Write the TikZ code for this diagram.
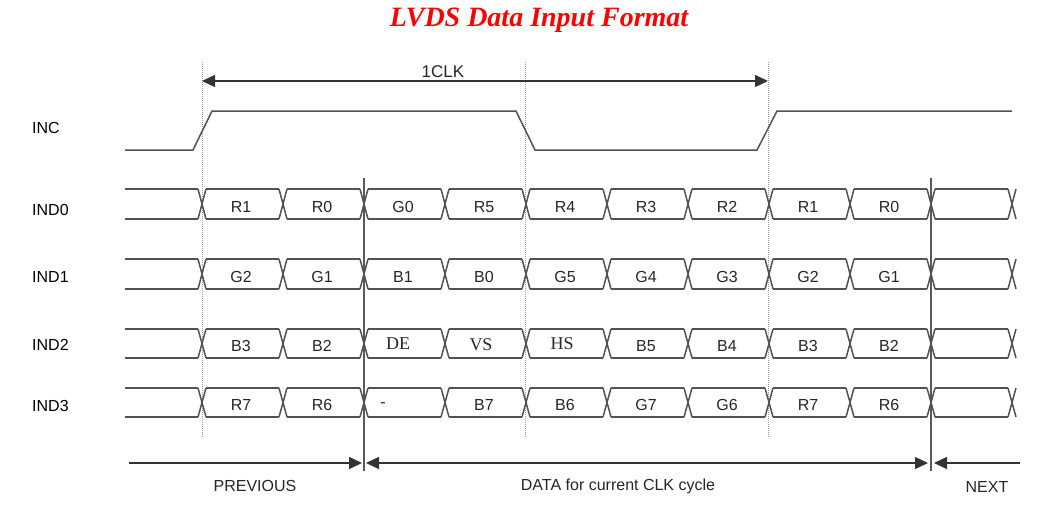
\documentclass[tikz,border=0pt]{standalone}
\usepackage{fontspec}
\setmainfont{Liberation Sans}
\newfontfamily\seriffont{Liberation Serif}
\usetikzlibrary{arrows.meta}

\tikzset{
  wave/.style={draw=black!68, line width=1.5pt},
  guide/.style={draw=black!40, densely dotted, line width=1pt},
  marker/.style={draw=black!65, line width=1.7pt},
  span/.style={draw=black!80, line width=1.3pt},
  sig/.style={font=\fontsize{16}{18}\selectfont, anchor=west, inner sep=0pt},
  cell/.style={font=\fontsize{16}{18}\selectfont, inner sep=0pt, text=black!85},
  serifcell/.style={font=\seriffont\fontsize{18}{20}\selectfont, inner sep=0pt, text=black!85},
}

\begin{document}
\begin{tikzpicture}[x=1pt, y=-1pt]
    \useasboundingbox (0,0) rectangle (1048,506);

    % title
    \node[font=\seriffont\fontsize{28}{30}\selectfont\bfseries\itshape, text=red] (title) at (539,20) {LVDS Data Input Format};

    % signal names
    \node[sig] (inc) at (32,128) {INC};
    \node[sig] (ind0) at (32,210) {IND0};
    \node[sig] (ind1) at (32,277) {IND1};
    \node[sig] (ind2) at (32,345) {IND2};
    \node[sig] (ind3) at (32,406) {IND3};

    % clock guides and cycle markers
    \foreach \x in {202,525,768}
        \draw[guide] (\x,62) -- (\x,437);
    \foreach \x in {364,931}
        \draw[marker] (\x,178) -- (\x,471);

    % clock
    \draw[wave] (125,150) -- (193,150) -- (212,111) -- (516,111) -- (535,150)
        -- (757,150) -- (777,111) -- (1012,111);

    \coordinate (clkL) at (202,81);
    \coordinate (clkR) at (768,81);
    \draw[span, {Triangle[length=13pt,width=12pt]}-{Triangle[length=13pt,width=12pt]}] (clkL) -- (clkR);
    \node[cell, font=\fontsize{17}{19}\selectfont] (clk) at (443,72) {1CLK};

    % data buses
    \foreach \t/\b in {189/219, 259/289, 329/358, 388/417} {
        \draw[wave] (125,\t) -- (198,\t);
        \draw[wave] (125,\b) -- (198,\b);
        \foreach \i in {0,...,10} {
            \pgfmathsetmacro\x{202+81*\i}
            \draw[wave] (\x-4,\t) -- (\x+4,\b);
            \draw[wave] (\x-4,\b) -- (\x+4,\t);
        }
        \foreach \i in {0,...,9} {
            \pgfmathsetmacro\x{202+81*\i}
            \draw[wave] (\x+4,\t) -- (\x+77,\t);
            \draw[wave] (\x+4,\b) -- (\x+77,\b);
        }
    }

    \foreach \lab [count=\i from 0] in {R1,R0,G0,R5,R4,R3,R2,R1,R0}
        \node[cell] (a\i) at ({241+81*\i},207) {\lab};
    \foreach \lab [count=\i from 0] in {G2,G1,B1,B0,G5,G4,G3,G2,G1}
        \node[cell] (b\i) at ({241+81*\i},277) {\lab};
    \foreach \lab [count=\i from 0] in {B3,B2,,,,B5,B4,B3,B2}
        \node[cell] (c\i) at ({241+81*\i},346) {\lab};
    \node[serifcell] (de) at (398,344) {DE};
    \node[serifcell] (vs) at (481,345) {VS};
    \node[serifcell] (hs) at (562,344) {HS};
    \foreach \lab [count=\i from 0] in {R7,R6,,B7,B6,G7,G6,R7,R6}
        \node[cell] (d\i) at ({241+81*\i},405) {\lab};
    \node[cell] (dash) at (383,405) {-};

    % cycle spans
    \coordinate (prevL) at (129,463);
    \coordinate (prevR) at (362,463);
    \coordinate (curL) at (366,463);
    \coordinate (curR) at (928,463);
    \coordinate (nextL) at (934,463);
    \coordinate (nextR) at (1020,463);
    \draw[span, -{Triangle[length=13pt,width=12pt]}] (prevL) -- (prevR);
    \draw[span, {Triangle[length=13pt,width=12pt]}-{Triangle[length=13pt,width=12pt]}] (curL) -- (curR);
    \draw[span, {Triangle[length=13pt,width=12pt]}-] (nextL) -- (nextR);

    \node[cell] (prev) at (255,486) {PREVIOUS};
    \node[cell] (cur) at (618,486) {DATA for current CLK cycle};
    \node[cell] (next) at (987,487) {NEXT};
\end{tikzpicture}
\end{document}
